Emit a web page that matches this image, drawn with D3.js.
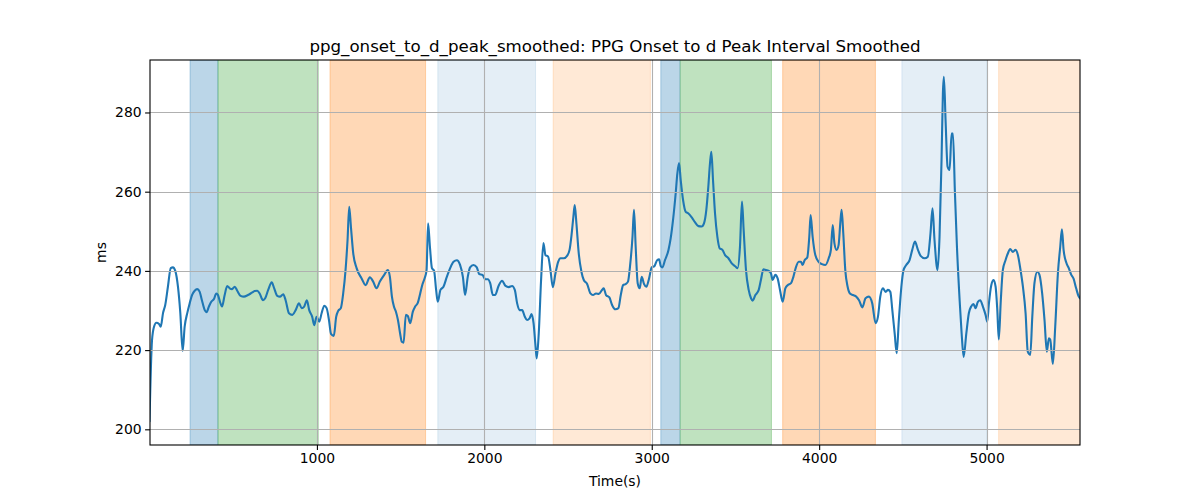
<!DOCTYPE html>
<html>
<head>
<meta charset="utf-8">
<script src="https://cdn.jsdelivr.net/npm/d3@7"></script>
<style>
  html, body { margin: 0; padding: 0; background: #ffffff; }
  svg { display: block; }
  text { font-family: "DejaVu Sans", sans-serif; fill: #000; }
</style>
</head>
<body>
<svg id="chart" width="1200" height="500"></svg>
<script>
// ---------------- data ----------------
const chartTitle = "ppg_onset_to_d_peak_smoothed: PPG Onset to d Peak Interval Smoothed";
const xLabel = "Time(s)";
const yLabel = "ms";

const xTicks = [1000, 2000, 3000, 4000, 5000];
const yTicks = [200, 220, 240, 260, 280];

// time (s)
const times = [
  0, 15, 27, 41, 57, 67, 81, 94, 110, 127, 140, 154, 170, 184, 198, 210, 226, 240, 254, 270,
  285, 300, 313, 330, 341, 355, 369, 385, 399, 409, 421, 433, 449, 464, 479, 493, 509, 524, 544, 564,
  588, 612, 628, 644, 658, 678, 691, 709, 730, 745, 763, 779, 799, 813, 833, 853, 873, 893, 909, 924,
  940, 954, 972, 984, 998, 1014, 1028, 1044, 1058, 1072, 1084, 1101, 1115, 1127, 1143, 1157, 1171, 1183, 1193, 1203,
  1217, 1237, 1267, 1291, 1316, 1336, 1356, 1376, 1402, 1424, 1436, 1448, 1460, 1472, 1484, 1497, 1507, 1518, 1531, 1543,
  1557, 1573, 1587, 1603, 1617, 1631, 1643, 1655, 1664, 1675, 1687, 1700, 1712, 1722, 1738, 1756, 1776, 1796, 1816, 1836,
  1855, 1872, 1885, 1901, 1915, 1935, 1955, 1969, 1989, 2005, 2021, 2035, 2051, 2064, 2085, 2106, 2127, 2146, 2166, 2182,
  2196, 2210, 2226, 2242, 2255, 2270, 2282, 2294, 2306, 2313, 2325, 2339, 2353, 2365, 2381, 2395, 2409, 2425, 2441, 2455,
  2475, 2494, 2509, 2521, 2532, 2540, 2550, 2564, 2580, 2594, 2614, 2634, 2649, 2667, 2684, 2703, 2713, 2727, 2747, 2763,
  2783, 2801, 2815, 2829, 2845, 2858, 2870, 2885, 2894, 2904, 2916, 2928, 2940, 2954, 2968, 2984, 3000, 3016, 3032, 3044,
  3054, 3064, 3079, 3100, 3113, 3127, 3143, 3153, 3163, 3173, 3187, 3203, 3219, 3239, 3258, 3279, 3298, 3312, 3326, 3338,
  3348, 3356, 3366, 3378, 3392, 3406, 3422, 3438, 3458, 3478, 3500, 3513, 3527, 3539, 3549, 3563, 3579, 3593, 3603, 3619,
  3639, 3652, 3667, 3682, 3698, 3712, 3722, 3738, 3752, 3766, 3782, 3798, 3812, 3832, 3846, 3861, 3878, 3891, 3901, 3913,
  3929, 3941, 3949, 3961, 3977, 3997, 4017, 4037, 4057, 4070, 4081, 4091, 4104, 4116, 4126, 4134, 4144, 4156, 4170, 4184,
  4202, 4222, 4238, 4258, 4277, 4297, 4317, 4337, 4351, 4365, 4381, 4397, 4411, 4425, 4437, 4451, 4463, 4476, 4491, 4504,
  4520, 4540, 4556, 4572, 4590, 4606, 4630, 4649, 4665, 4677, 4689, 4707, 4719, 4731, 4739, 4745, 4755, 4767, 4779, 4791,
  4799, 4811, 4823, 4839, 4851, 4863, 4879, 4894, 4909, 4922, 4934, 4948, 4962, 4978, 4994, 5004, 5014, 5028, 5042, 5054,
  5064, 5073, 5085, 5097, 5113, 5127, 5141, 5157, 5173, 5187, 5201, 5217, 5233, 5246, 5261, 5273, 5286, 5303, 5316, 5332,
  5346, 5360, 5372, 5380, 5396, 5410, 5426, 5440, 5450, 5460, 5476, 5491, 5506, 5519, 5535, 5551, 5560
];

// interval (ms)
const values = [
  202.0, 222.5, 225.9, 226.9, 226.6, 225.9, 229.4, 231.4, 236.0, 240.7, 240.9, 240.0, 236.0, 229.4, 219.8, 225.9, 229.4, 231.8, 233.9, 235.0,
  235.4, 234.7, 232.6, 230.1, 229.6, 231.0, 232.2, 232.9, 234.3, 233.9, 232.2, 231.0, 233.9, 236.2, 235.6, 235.4, 236.0, 235.0, 233.7, 233.5,
  233.9, 234.5, 234.9, 235.0, 234.3, 232.6, 233.1, 235.2, 237.1, 235.6, 233.7, 233.5, 234.1, 232.6, 229.3, 228.9, 230.1, 231.8, 230.6, 231.0,
  232.6, 230.1, 228.4, 226.3, 228.4, 227.2, 229.3, 231.2, 230.6, 227.6, 224.1, 223.6, 228.4, 229.9, 230.6, 234.3, 240.2, 247.8, 256.2, 251.2,
  244.4, 240.7, 238.1, 236.4, 238.4, 237.3, 235.6, 237.3, 239.0, 240.2, 238.5, 233.5, 231.0, 229.7, 227.6, 224.2, 222.1, 221.9, 228.9, 228.6,
  226.8, 229.7, 231.0, 232.0, 234.3, 236.7, 238.1, 240.2, 252.0, 246.1, 240.7, 240.0, 235.2, 232.2, 235.2, 236.0, 238.5, 240.7, 242.3, 242.7,
  241.5, 238.5, 233.9, 238.5, 240.9, 241.5, 240.9, 239.2, 239.0, 237.9, 237.9, 236.9, 233.9, 233.9, 236.2, 237.5, 236.2, 235.9, 236.2, 235.2,
  231.8, 230.1, 230.1, 228.4, 227.6, 228.0, 229.1, 226.8, 220.9, 217.9, 224.2, 237.7, 247.0, 244.0, 243.6, 240.2, 235.9, 239.4, 242.3, 243.2,
  243.2, 243.8, 245.3, 249.1, 253.7, 256.6, 252.0, 244.4, 239.8, 237.7, 236.7, 234.3, 233.9, 234.3, 234.2, 235.2, 235.6, 233.9, 233.3, 231.4,
  230.3, 230.6, 233.9, 236.4, 236.7, 237.3, 241.1, 248.6, 255.4, 246.1, 236.9, 235.6, 238.5, 236.7, 236.0, 238.1, 240.9, 241.2, 242.7, 242.9,
  241.2, 240.9, 242.7, 245.3, 248.2, 252.8, 259.6, 264.6, 267.2, 262.9, 257.9, 254.9, 254.5, 253.5, 252.3, 251.3, 251.2, 252.0, 255.4, 261.3,
  267.2, 270.1, 262.9, 254.5, 248.6, 245.7, 245.3, 244.0, 243.2, 241.9, 241.1, 240.7, 246.1, 257.5, 250.3, 240.2, 235.2, 233.1, 232.5, 233.9,
  235.2, 237.7, 240.4, 240.2, 240.0, 239.4, 237.7, 239.0, 238.1, 235.2, 232.2, 235.6, 236.4, 236.9, 238.5, 240.9, 242.3, 242.3, 241.5, 242.7,
  243.4, 248.6, 254.1, 248.6, 244.0, 242.3, 241.7, 241.5, 243.2, 245.3, 251.6, 247.0, 245.3, 246.5, 252.0, 255.4, 249.5, 240.2, 236.0, 234.3,
  233.9, 233.5, 232.6, 230.8, 233.1, 233.5, 231.8, 226.8, 228.4, 233.5, 235.6, 234.7, 235.2, 234.7, 230.1, 224.2, 219.2, 227.6, 236.0, 240.2,
  241.5, 242.7, 245.3, 247.4, 245.3, 243.8, 243.2, 243.6, 249.5, 255.8, 247.8, 240.2, 248.6, 268.0, 284.8, 289.0, 278.1, 266.3, 265.5, 274.7,
  274.7, 259.6, 246.1, 232.6, 224.2, 218.3, 224.2, 229.3, 231.1, 231.6, 230.6, 232.2, 232.6, 231.0, 228.9, 227.2, 231.8, 236.4, 237.7, 236.0,
  230.1, 222.7, 232.6, 240.2, 242.7, 244.4, 245.5, 244.8, 245.3, 244.0, 240.7, 236.0, 229.3, 219.6, 218.8, 228.4, 236.9, 239.8, 239.0, 234.3,
  227.6, 219.6, 223.0, 222.7, 216.5, 225.9, 239.4, 246.1, 250.5, 245.3, 242.1, 240.7, 239.0, 238.1, 235.6, 233.5, 233.0
];

// shaded phases
const spanStarts = [242, 409, 1078, 1722, 2411, 3054, 3170, 3782, 4494, 5072];
const spanEnds   = [409, 1008, 1649, 2306, 2992, 3169, 3715, 4336, 5002, 5560];
const spanPhase  = ["a", "b", "c", "d", "e", "a", "b", "c", "d", "e"];

// ---------------- layout / style ----------------
const W = 1200, H = 500;
const m = { left: 150, right: 1080, top: 60, bottom: 445 };
const phaseStyle = {
  a: { color: "#1f77b4", opacity: 0.3 },
  b: { color: "#2ca02c", opacity: 0.3 },
  c: { color: "#ff7f0e", opacity: 0.3 },
  d: { color: "#1f77b4", opacity: 0.12 },
  e: { color: "#ff7f0e", opacity: 0.17 }
};

const svg = d3.select("#chart");
const x = d3.scaleLinear().domain([3, 5558]).range([m.left, m.right]);
const y = d3.scaleLinear().domain([196.04, 293.25]).range([m.bottom, m.top]);

// clip
svg.append("defs").append("clipPath").attr("id", "clip")
  .append("rect").attr("x", m.left).attr("y", m.top)
  .attr("width", m.right - m.left).attr("height", m.bottom - m.top);

const plot = svg.append("g").attr("clip-path", "url(#clip)");

// spans
const spans = spanStarts.map((s, i) => ({ s, e: spanEnds[i], p: spanPhase[i] }));
plot.selectAll("rect.span").data(spans).enter().append("rect")
  .attr("class", "span")
  .attr("x", d => x(d.s))
  .attr("y", m.top)
  .attr("width", d => x(d.e) - x(d.s))
  .attr("height", m.bottom - m.top)
  .attr("fill", d => phaseStyle[d.p].color)
  .attr("fill-opacity", d => phaseStyle[d.p].opacity)
  .attr("stroke", d => phaseStyle[d.p].color)
  .attr("stroke-opacity", d => phaseStyle[d.p].opacity)
  .attr("stroke-width", 1);

// grid
const grid = svg.append("g");
grid.selectAll("line.gx").data(xTicks).enter().append("line")
  .attr("x1", d => Math.round(x(d)) + 0.5).attr("x2", d => Math.round(x(d)) + 0.5)
  .attr("y1", m.top).attr("y2", m.bottom)
  .attr("stroke", "#b0b0b0").attr("stroke-width", 1.1);
grid.selectAll("line.gy").data(yTicks).enter().append("line")
  .attr("y1", d => Math.round(y(d)) + 0.5).attr("y2", d => Math.round(y(d)) + 0.5)
  .attr("x1", m.left).attr("x2", m.right)
  .attr("stroke", "#b0b0b0").attr("stroke-width", 1.1);

// line
const pts = times.map((t, i) => [t, values[i]]);
const line = d3.line().x(d => x(d[0])).y(d => y(d[1])).curve(d3.curveMonotoneX);
plot.append("path").datum(pts)
  .attr("d", line)
  .attr("fill", "none")
  .attr("stroke", "#1f77b4")
  .attr("stroke-width", 2.1)
  .attr("stroke-linejoin", "round")
  .attr("stroke-linecap", "round");

// axes
const xAxis = d3.axisBottom(x).tickValues(xTicks).tickSize(4.9).tickPadding(3.5).tickFormat(d3.format("d"));
const yAxis = d3.axisLeft(y).tickValues(yTicks).tickSize(4.9).tickPadding(3.5).tickFormat(d3.format("d"));

const gx = svg.append("g").attr("transform", `translate(0,${m.bottom})`).call(xAxis);
const gy = svg.append("g").attr("transform", `translate(${m.left},0)`).call(yAxis);
[gx, gy].forEach(g => {
  g.select(".domain").remove();
  g.selectAll(".tick line").attr("stroke", "#000").attr("stroke-width", 1.1);
  g.selectAll(".tick text").attr("font-family", "DejaVu Sans").attr("font-size", 13.9).attr("fill", "#000");
});

// frame
svg.append("rect")
  .attr("x", m.left).attr("y", m.top)
  .attr("width", m.right - m.left).attr("height", m.bottom - m.top)
  .attr("fill", "none").attr("stroke", "#000").attr("stroke-width", 1.1);

// title and labels
svg.append("text").attr("x", (m.left + m.right) / 2).attr("y", 52)
  .attr("text-anchor", "middle").attr("font-size", 16.67).text(chartTitle);
svg.append("text").attr("x", (m.left + m.right) / 2).attr("y", 486)
  .attr("text-anchor", "middle").attr("font-size", 13.9).text(xLabel);
svg.append("text").attr("transform", `translate(106,${(m.top + m.bottom) / 2}) rotate(-90)`)
  .attr("text-anchor", "middle").attr("font-size", 13.9).text(yLabel);
</script>
</body>
</html>
